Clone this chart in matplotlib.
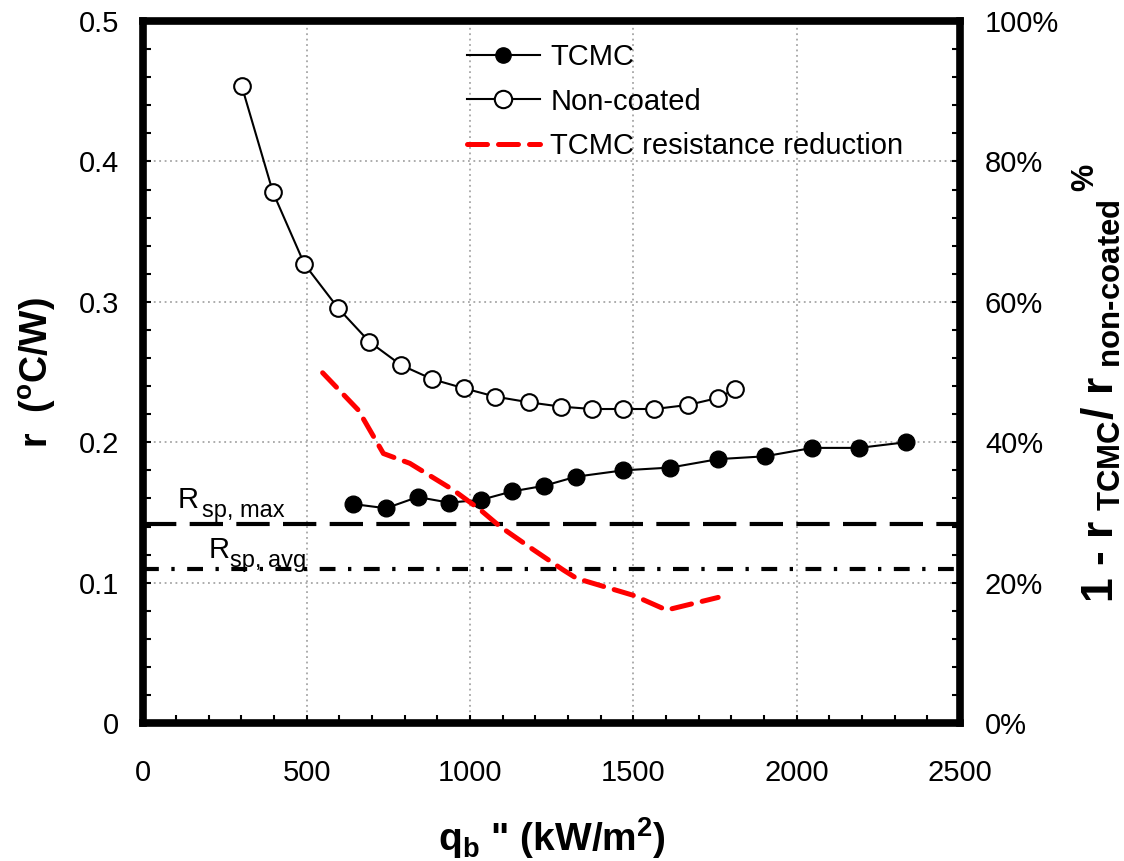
import matplotlib
matplotlib.use("Agg")
import matplotlib.pyplot as plt
from matplotlib.ticker import MultipleLocator, FuncFormatter
from matplotlib.lines import Line2D

plt.rcParams['font.family'] = ['Liberation Sans', 'DejaVu Sans']
plt.rcParams['mathtext.fontset'] = 'custom'
plt.rcParams['mathtext.default'] = 'regular'
plt.rcParams['mathtext.rm'] = 'Liberation Sans:bold'
plt.rcParams['mathtext.bf'] = 'Liberation Sans:bold'

# ---- data ----
tcmc_q = [643, 743, 840, 936, 1034, 1129, 1227, 1325, 1469, 1614, 1760, 1903, 2048, 2191, 2334]
tcmc_r = [0.156, 0.153, 0.161, 0.157, 0.159, 0.165, 0.169, 0.1755, 0.180, 0.182, 0.188, 0.190, 0.196, 0.196, 0.200]

nc_q = [301, 397, 493, 597, 692, 789, 885, 981, 1078, 1180, 1278, 1374, 1469, 1565, 1668, 1760, 1811]
nc_r = [0.454, 0.378, 0.327, 0.2954, 0.2716, 0.255, 0.2449, 0.2385, 0.2325, 0.2285, 0.2254, 0.2237,
        0.2237, 0.2237, 0.2266, 0.2316, 0.2378]

red_q = [549, 658, 735, 816, 949, 1031, 1092, 1194, 1286, 1327, 1500, 1602, 1760]
red_pct = [49.9, 44.6, 38.4, 37.0, 33.2, 30.4, 28.0, 24.7, 21.8, 20.6, 18.2, 16.1, 17.9]

rsp_max = 0.142
rsp_avg = 0.110

x_ticks = [0, 500, 1000, 1500, 2000, 2500]
y_ticks = [0, 0.1, 0.2, 0.3, 0.4, 0.5]
y_tick_labels = ['0', '0.1', '0.2', '0.3', '0.4', '0.5']
pct_ticks = [0, 20, 40, 60, 80, 100]

# ---- figure ----
fig = plt.figure(figsize=(11.24, 8.61), dpi=100)
ax = fig.add_axes([0.1275, 0.1602, 0.854 - 0.1275, 0.9755 - 0.1602])
ax2 = ax.twinx()

ax.set_xlim(0, 2500)
ax.set_ylim(0, 0.5)
ax2.set_ylim(0, 100)

ax.set_axisbelow(True)
ax.grid(True, which='major', linestyle=(0, (1, 2)), color='#a6a6a6', linewidth=1.3)

# reference lines
ax.axhline(rsp_max, color='black', linewidth=3.0, dashes=(8, 3.2), zorder=2)
ax.axhline(rsp_avg, color='black', linewidth=3.0, dashes=(3.8, 3.0, 0.8, 3.0), zorder=2)

# series
ax.plot(nc_q, nc_r, color='black', linewidth=1.5, marker='o', markersize=12,
        markerfacecolor='white', markeredgecolor='black', markeredgewidth=1.5, zorder=4)
ax.plot(tcmc_q, tcmc_r, color='black', linewidth=1.5, marker='o', markersize=12,
        markerfacecolor='black', markeredgecolor='black', zorder=4)
ax2.plot(red_q, red_pct, color='#ff0000', linewidth=3.6, dashes=(4, 2.2),
         dash_capstyle='round', zorder=5)

# annotations
ax.text(106, 0.1530, 'R', fontsize=21, ha='left', va='baseline')
ax.text(179, 0.1470, 'sp, max', fontsize=17, ha='left', va='baseline')
ax.text(199, 0.1174, 'R', fontsize=21, ha='left', va='baseline')
ax.text(265, 0.1114, 'sp, avg', fontsize=17, ha='left', va='baseline')

# ticks
ax.set_xticks(x_ticks)
ax.set_yticks(y_ticks)
ax.set_yticklabels(y_tick_labels)
ax.xaxis.set_minor_locator(MultipleLocator(100))
ax.yaxis.set_minor_locator(MultipleLocator(0.02))
ax.tick_params(axis='both', which='both', direction='in', labelsize=21, length=6, width=1.5)
ax.tick_params(axis='x', which='both', top=False, pad=26)
ax.tick_params(axis='y', which='both', right=False, pad=17.5)

ax2.set_yticks(pct_ticks)
ax2.yaxis.set_major_formatter(FuncFormatter(lambda v, p: f'{int(v)}%'))
ax2.yaxis.set_minor_locator(MultipleLocator(4))
ax2.tick_params(axis='y', which='both', direction='in', labelsize=21, length=6, width=1.5, pad=18)

for a in (ax, ax2):
    for s in a.spines.values():
        s.set_linewidth(5.5)
        s.set_capstyle('projecting')
for s in ax2.spines.values():
    s.set_visible(False)

# axis labels
ax.set_xlabel(r'q$_{b}$ " (kW/m$^{2}$)', fontsize=28, fontweight='bold', labelpad=20)
ax.set_ylabel(r'r  ($^{o}$C/W)', fontsize=27, fontweight='bold', labelpad=15)
fig.text(1123 / 1124, 1 - 401 / 861,
         r'1 - r$_{\ TCMC}$/ r$_{\ non\text{-}coated}$',
         fontsize=32, fontweight='bold', rotation=90, ha='right', va='center')
fig.text(1100 / 1124, 1 - 177 / 861, '%', fontsize=22, fontweight='bold',
         rotation=90, ha='right', va='center')

# legend
handles = [
    Line2D([], [], color='black', linewidth=1.5, marker='o', markersize=11,
           markerfacecolor='black', markeredgecolor='black'),
    Line2D([], [], color='black', linewidth=1.5, marker='o', markersize=12.5,
           markerfacecolor='white', markeredgecolor='black', markeredgewidth=1.5),
    Line2D([], [], color='#ff0000', linewidth=3.6, dashes=(4, 2.2), dash_capstyle='round'),
]
labels = ['TCMC', 'Non-coated', 'TCMC resistance reduction']
leg = ax2.legend(handles, labels, loc='upper left', bbox_to_anchor=(0.4155, 0.950),
                 bbox_transform=fig.transFigure, frameon=False, fontsize=21,
                 handlelength=2.5, handletextpad=0.35, labelspacing=0.57,
                 borderpad=0, borderaxespad=0)

fig.savefig('out.png', dpi=100)
